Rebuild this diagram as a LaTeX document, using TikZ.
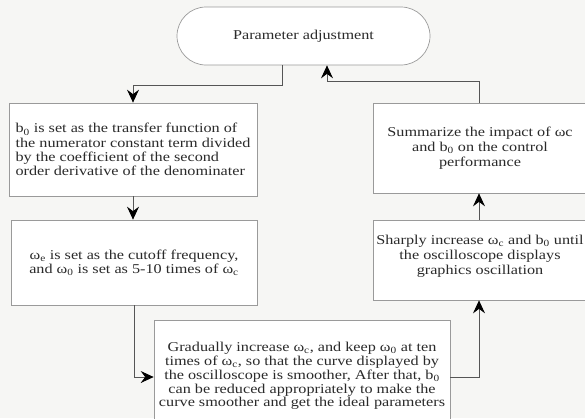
\documentclass[tikz,border=0pt]{standalone}
\usepackage{fontspec}
\setmainfont[FakeStretch=1.2]{Liberation Serif}
\usetikzlibrary{arrows.meta,shapes.misc}
\definecolor{bgc}{HTML}{F6F6F4}
\definecolor{edgec}{HTML}{9A9A9A}
\definecolor{linec}{HTML}{555555}
\definecolor{txtc}{HTML}{2A2A2A}
\tikzset{
  box/.style={draw=edgec, line width=0.7pt, fill=white, rectangle, inner sep=0pt,
    text=txtc, font=\fontsize{13.5}{14.2}\selectfont},
  term/.style={box, rounded rectangle},
  arr/.style={draw=linec, line width=0.9pt,
    -{Stealth[length=13pt,width=12pt,inset=4.5pt,color=black,fill=black]}},
}
\newcommand{\sub}[1]{\textsubscript{#1}}
\begin{document}
\begin{tikzpicture}[x=1pt,y=-1pt]
\fill[bgc] (0,0) rectangle (585,418);
\useasboundingbox (0,0) rectangle (585,418);

\node[term, minimum width=253, minimum height=58] (start) at (303.5,36) {Parameter adjustment};

\node[box, minimum width=248, minimum height=93, align=left] (b1) at (133,149.5)
  {b\sub{0} is set as the transfer function of\\
   the numerator constant term divided\\
   by the coefficient of the second\\
   order derivative of the denominater};

\node[box, minimum width=246, minimum height=85, align=center] (b2) at (134,262.5)
  {ω\sub{e} is set as the cutoff frequency,\\
   and ω\sub{0} is set as 5-10 times of ω\sub{c}};

\node[box, minimum width=296, minimum height=112, align=center, font=\fontsize{13.5}{13.8}\selectfont] (b3) at (302,376)
  {Gradually increase ω\sub{c}, and keep ω\sub{0} at ten\\
   times of ω\sub{c}, so that the curve displayed by\\
   the oscilloscope is smoother, After that, b\sub{0}\\
   can be reduced appropriately to make the\\
   curve smoother and get the ideal parameters};

\node[box, minimum width=214, minimum height=80, align=center, font=\fontsize{13.5}{15}\selectfont] (b4) at (480,260)
  {Sharply increase ω\sub{c} and b\sub{0} until\\
   the oscilloscope displays\\
   graphics oscillation\\[-4pt]\mbox{}};

\node[box, minimum width=214, minimum height=90, align=center, font=\fontsize{13.5}{15}\selectfont] (b5) at (480,148)
  {Summarize the impact of ωc\\
   and b\sub{0} on the control\\
   performance};

\draw[arr] ([xshift=-21.5pt]start.south) -- ++(0,20) -| (b1.north);
\draw[arr] (b1.south) -- (b1.south |- b2.north);
\draw[arr] (b2.south) |- ([yshift=-1pt]b3.west);
\draw[arr] ([yshift=-1pt]b3.east) -| ([xshift=-1pt]b4.south);
\draw[arr] ([xshift=-1pt]b4.north) -- ([xshift=-1pt]b5.south);
\draw[arr] ([xshift=-1pt]b5.north) -- ++(0,-21) -| ([xshift=23.5pt]start.south);
\end{tikzpicture}
\end{document}
